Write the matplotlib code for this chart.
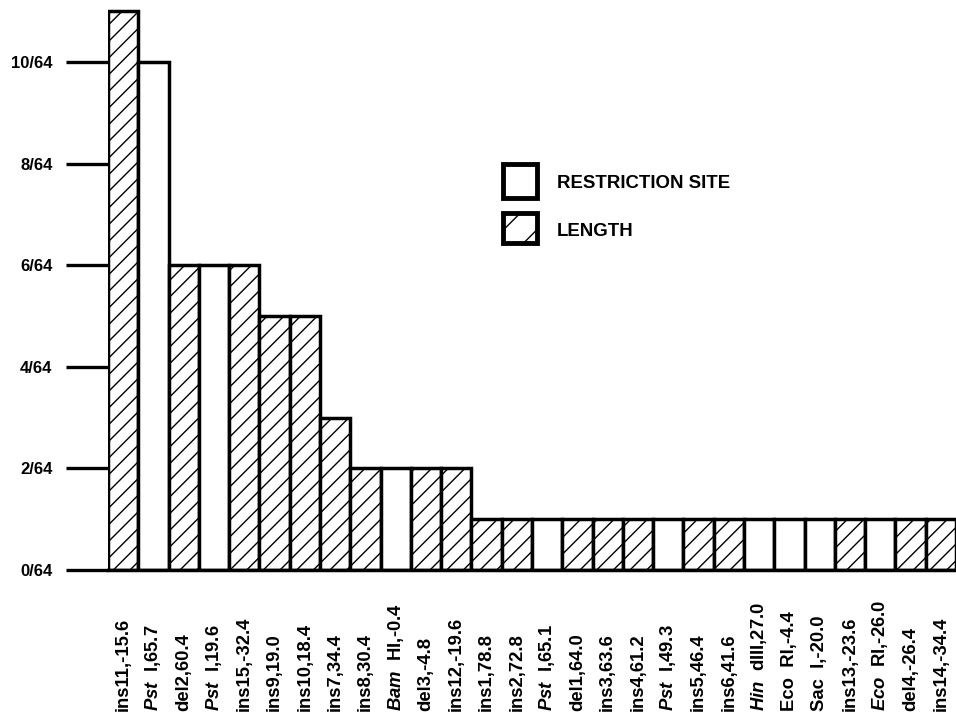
import matplotlib
matplotlib.use("Agg")
import matplotlib.pyplot as plt
from matplotlib.patches import Rectangle
from matplotlib.transforms import blended_transform_factory

plt.rcParams['font.family'] = ['Liberation Sans', 'DejaVu Sans']
plt.rcParams['mathtext.fontset'] = 'custom'
plt.rcParams['mathtext.it'] = 'Liberation Sans:italic:bold'
plt.rcParams['mathtext.rm'] = 'Liberation Sans:bold'
plt.rcParams['mathtext.bf'] = 'Liberation Sans:bold'
plt.rcParams['hatch.linewidth'] = 1.0

labels = [r"ins11,-15.6", r"$\it{Pst}$  I,65.7", r"del2,60.4", r"$\it{Pst}$  I,19.6",
          r"ins15,-32.4", r"ins9,19.0", r"ins10,18.4", r"ins7,34.4", r"ins8,30.4",
          r"$\it{Bam}$  HI,-0.4", r"del3,-4.8", r"ins12,-19.6", r"ins1,78.8", r"ins2,72.8",
          r"$\it{Pst}$  I,65.1", r"del1,64.0", r"ins3,63.6", r"ins4,61.2", r"$\it{Pst}$  I,49.3",
          r"ins5,46.4", r"ins6,41.6", r"$\it{Hin}$  dIII,27.0", r"Eco  RI,-4.4", r"Sac  I,-20.0",
          r"ins13,-23.6", r"$\it{Eco}$  RI,-26.0", r"del4,-26.4", r"ins14,-34.4"]
values = [11, 10, 6, 6, 6, 5, 5, 3, 2, 2, 2, 2, 1, 1, 1, 1, 1, 1, 1, 1, 1, 1, 1, 1, 1, 1, 1, 1]
kinds = ["L", "R", "L", "R", "L", "L", "L", "L", "L", "R", "L", "L", "L", "L",
         "R", "L", "L", "L", "R", "L", "L", "R", "R", "R", "L", "R", "L", "L"]
yticks = [0, 2, 4, 6, 8, 10]
ytick_labels = ["0/64", "2/64", "4/64", "6/64", "8/64", "10/64"]
legend_labels = ["RESTRICTION SITE", "LENGTH"]

W, H = 956, 717
fig = plt.figure(figsize=(W / 100, H / 100), dpi=100)
ax = fig.add_axes([108 / W, (H - 570) / H, (956 - 108) / W, 569 / H])

n = len(values)
for i, (v, k) in enumerate(zip(values, kinds)):
    ax.bar(i, v, width=1.0, facecolor='white', edgecolor='black', linewidth=2.5,
           hatch='//' if k == "L" else None, zorder=2)

ax.set_xlim(-0.5, n - 0.5)
ax.set_ylim(0, 11.2)
ax.set_yticks(yticks)
ax.set_yticklabels(ytick_labels, fontsize=12, fontweight='bold')
ax.tick_params(axis='y', length=30, width=2.4, pad=10, direction='out')
ax.set_xticks([])
for s in ['top', 'right', 'left']:
    ax.spines[s].set_visible(False)
ax.spines['bottom'].set_linewidth(2.5)
ax.spines['bottom'].set_zorder(3)

trans = blended_transform_factory(ax.transData, fig.transFigure)
for i, lab in enumerate(labels):
    ax.text(i, 6 / H, lab, rotation=90, ha='center', va='bottom', transform=trans,
            fontsize=13.3, fontweight='bold', clip_on=False)

# legend
fig.patches.append(Rectangle((503 / W, 1 - 198 / H), 34 / W, 34 / H, transform=fig.transFigure,
                             facecolor='white', edgecolor='black', linewidth=3.5))
fig.patches.append(Rectangle((503 / W, 1 - 243 / H), 34 / W, 30 / H, transform=fig.transFigure,
                             facecolor='white', edgecolor='black', linewidth=3.5, hatch='/'))
fig.text(557 / W, 1 - 183 / H, legend_labels[0], fontsize=13.4, fontweight='bold', va='center', ha='left')
fig.text(557 / W, 1 - 232 / H, legend_labels[1], fontsize=13.4, fontweight='bold', va='center', ha='left')

fig.savefig("out.png", dpi=100)
